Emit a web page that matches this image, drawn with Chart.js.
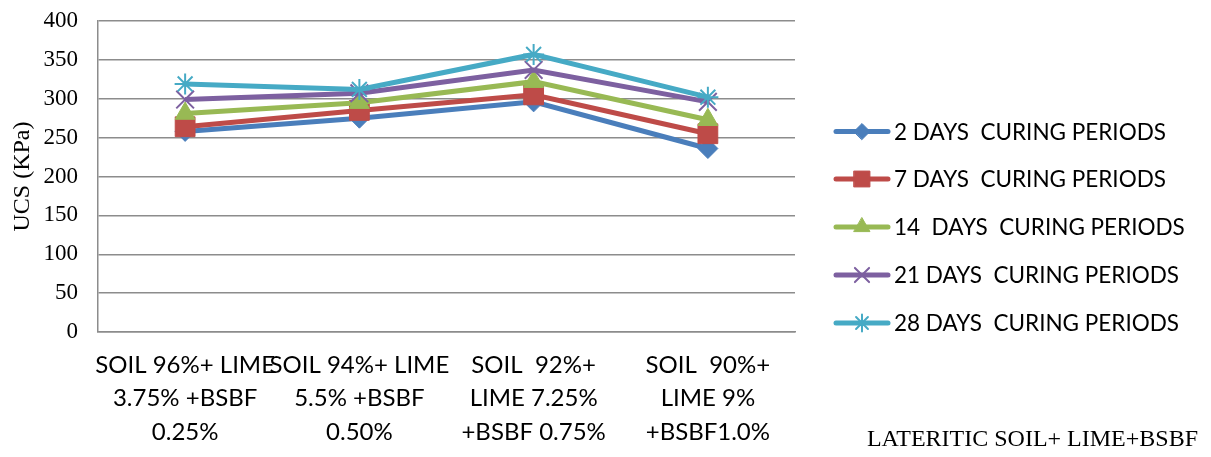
<!DOCTYPE html>
<html>
<head>
<meta charset="utf-8">
<script src="https://cdn.jsdelivr.net/npm/chart.js@4/dist/chart.umd.min.js"></script>
<style>
  html, body { margin: 0; padding: 0; background: #fff; }
  #wrap { width: 1211px; height: 457px; }
</style>
</head>
<body>
<div id="wrap"><canvas id="ucs" width="1211" height="457"></canvas></div>
<script>
// Mix designs (x categories), one label line per array entry
const mixes = [
  ["SOIL 96%+ LIME", "3.75% +BSBF", "0.25%"],
  ["SOIL 94%+ LIME", "5.5% +BSBF", "0.50%"],
  ["SOIL  92%+", "LIME 7.25%", "+BSBF 0.75%"],
  ["SOIL  90%+", "LIME 9%", "+BSBF1.0%"]
];

// UCS (kPa) for each curing period
const days2  = [258, 275, 296, 236];
const days7  = [264, 285, 305, 255];
const days14 = [281, 295, 322, 273];
const days21 = [299, 307, 337, 296];
const days28 = [319, 312, 357, 302];

const seriesNames = [
  "2 DAYS  CURING PERIODS",
  "7 DAYS  CURING PERIODS",
  "14  DAYS  CURING PERIODS",
  "21 DAYS  CURING PERIODS",
  "28 DAYS  CURING PERIODS"
];

const yTicks = [0, 50, 100, 150, 200, 250, 300, 350, 400];
const footNote = "LATERITIC SOIL+ LIME+BSBF";

const colors = ["#4A7EBB", "#BE4B48", "#98B954", "#7D60A0", "#46AAC5"];
const styles = ["rectRot", "rect", "triangle", "crossRot", "star"];
const radii  = [10, 14, 11.5, 12.5, 10.5];
const values = [days2, days7, days14, days21, days28];

const serifFont = "'Liberation Serif', 'Times New Roman', serif";
const sansFont = "Lato, 'Open Sans', sans-serif";

const datasets = values.map((v, i) => ({
  label: seriesNames[i],
  data: v,
  borderColor: colors[i],
  backgroundColor: colors[i],
  borderWidth: 5,
  pointStyle: styles[i],
  pointRadius: radii[i],
  pointHoverRadius: radii[i],
  pointBorderWidth: (styles[i] === "crossRot" || styles[i] === "star") ? 2 : 1,
  pointBackgroundColor: colors[i],
  pointBorderColor: colors[i],
  tension: 0,
  order: values.length - i
}));

// Legend with line + marker swatches, and the footnote at bottom right
const sideLegend = {
  id: "sideLegend",
  afterDraw(chart) {
    const ctx = chart.ctx;
    const rows = [131.5, 179, 227, 275, 323];
    ctx.save();
    datasets.forEach((ds, i) => {
      const y = rows[i];
      ctx.strokeStyle = ds.borderColor;
      ctx.lineWidth = 5;
      ctx.lineCap = "round";
      ctx.beginPath();
      ctx.moveTo(836, y);
      ctx.lineTo(888, y);
      ctx.stroke();
      ctx.fillStyle = ds.borderColor;
      ctx.strokeStyle = ds.borderColor;
      ctx.lineWidth = ds.pointBorderWidth;
      Chart.helpers.drawPoint(ctx, {
        pointStyle: ds.pointStyle,
        radius: ds.pointRadius * 0.8,
        rotation: 0,
        borderWidth: ds.pointBorderWidth
      }, 862, y);
      ctx.fillStyle = "#000";
      ctx.font = "22.5px " + sansFont;
      ctx.textAlign = "left";
      ctx.textBaseline = "middle";
      ctx.fillText(ds.label, 894, y + 1);
    });
    ctx.font = "24px " + serifFont;
    ctx.textAlign = "right";
    ctx.textBaseline = "middle";
    ctx.fillStyle = "#000";
    ctx.fillText(footNote, 1198, 440);
    ctx.restore();
  }
};

new Chart(document.getElementById("ucs"), {
  type: "line",
  data: { labels: mixes, datasets },
  options: {
    responsive: false,
    animation: false,
    layout: { padding: { top: 21, right: 416, bottom: 0, left: 0 } },
    plugins: {
      legend: { display: false },
      tooltip: { enabled: false }
    },
    scales: {
      x: {
        offset: true,
        grid: { display: false, drawTicks: false },
        border: { display: true, color: "#8c8c8c", width: 1.5 },
        ticks: {
          color: "#000",
          padding: 16,
          maxRotation: 0,
          autoSkip: false,
          font: { family: sansFont, size: 24, lineHeight: 1.4 }
        },
        afterFit(s) { s.height = 125; s.paddingLeft = 0; s.paddingRight = 0; }
      },
      y: {
        min: 0,
        max: 400,
        afterBuildTicks(s) { s.ticks = yTicks.map(v => ({ value: v })); },
        grid: { color: "#8c8c8c", lineWidth: 1.5, drawTicks: false },
        border: { display: true, color: "#8c8c8c", width: 1.5 },
        ticks: {
          color: "#000",
          padding: 20,
          font: { family: serifFont, size: 23 }
        },
        title: {
          display: true,
          text: "UCS (KPa)",
          color: "#000",
          padding: { top: 8, bottom: 0 },
          font: { family: serifFont, size: 24 }
        },
        afterFit(s) { s.width = 98; s.paddingTop = 0; s.paddingBottom = 0; }
      }
    }
  },
  plugins: [sideLegend]
});
</script>
</body>
</html>
